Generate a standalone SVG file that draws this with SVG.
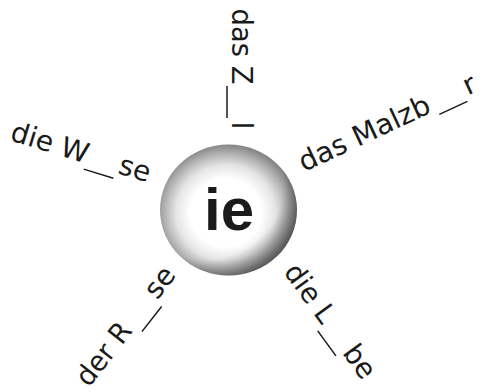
<svg xmlns="http://www.w3.org/2000/svg" width="483" height="392" viewBox="0 0 483 392">
<defs>
<radialGradient id="ball" cx="0.48" cy="0.52" r="0.52">
<stop offset="0" stop-color="#ffffff"/>
<stop offset="0.5" stop-color="#ffffff"/>
<stop offset="0.7" stop-color="#e4e4e4"/>
<stop offset="0.88" stop-color="#adadad"/>
<stop offset="1" stop-color="#858585"/>
</radialGradient>
<radialGradient id="shade" cx="0.32" cy="0.3" r="0.85">
<stop offset="0.68" stop-color="#000" stop-opacity="0"/>
<stop offset="0.86" stop-color="#000" stop-opacity="0.35"/>
<stop offset="1" stop-color="#000" stop-opacity="0.55"/>
</radialGradient>
<style>
.lbl{font-family:"DejaVu Sans","Liberation Sans",sans-serif;font-size:28px;fill:#1a1a1a}
.blank{stroke:#1a1a1a;stroke-width:1.5;fill:none}
.ie{font-family:"Liberation Sans",Arial,sans-serif;font-weight:bold;font-size:60px;fill:#1a1a1a}
</style>
</defs>
<g id="center">
<ellipse cx="228.5" cy="210" rx="68.5" ry="65.5" fill="url(#ball)"/>
<ellipse cx="228.5" cy="210" rx="68.5" ry="65.5" fill="url(#shade)"/>
<text class="ie" x="229" y="230" text-anchor="middle">ie</text>
</g>
<g id="label-top" transform="translate(232,8.5) rotate(90)">
<text class="lbl" x="0" y="0" textLength="76" lengthAdjust="spacingAndGlyphs">das Z</text>
<line class="blank" x1="77.5" y1="5" x2="109.5" y2="5"/>
<text class="lbl" x="113" y="0">l</text>
</g>
<g id="label-left" transform="translate(9,140) rotate(17)">
<text class="lbl" x="0" y="0" textLength="80" lengthAdjust="spacingAndGlyphs">die W</text>
<line class="blank" x1="80" y1="6" x2="111" y2="6"/>
<text class="lbl" x="113" y="0">se</text>
</g>
<g id="label-right" transform="translate(304,172) rotate(-25)">
<text class="lbl" x="0" y="0" textLength="142" lengthAdjust="spacingAndGlyphs">das Malzb</text>
<line class="blank" x1="147" y1="5" x2="178" y2="5"/>
<text class="lbl" x="181" y="0">r</text>
</g>
<g id="label-bottom-left" transform="translate(89,388) rotate(-52)">
<text class="lbl" x="0" y="0" textLength="72" lengthAdjust="spacingAndGlyphs">der R</text>
<line class="blank" x1="77" y1="7" x2="109" y2="7"/>
<text class="lbl" x="111" y="0">se</text>
</g>
<g id="label-bottom-right" transform="translate(283,272) rotate(54)">
<text class="lbl" x="0" y="0" textLength="66" lengthAdjust="spacingAndGlyphs">die L</text>
<line class="blank" x1="68" y1="6.5" x2="99" y2="6.5"/>
<text class="lbl" x="100" y="0">be</text>
</g>
</svg>
